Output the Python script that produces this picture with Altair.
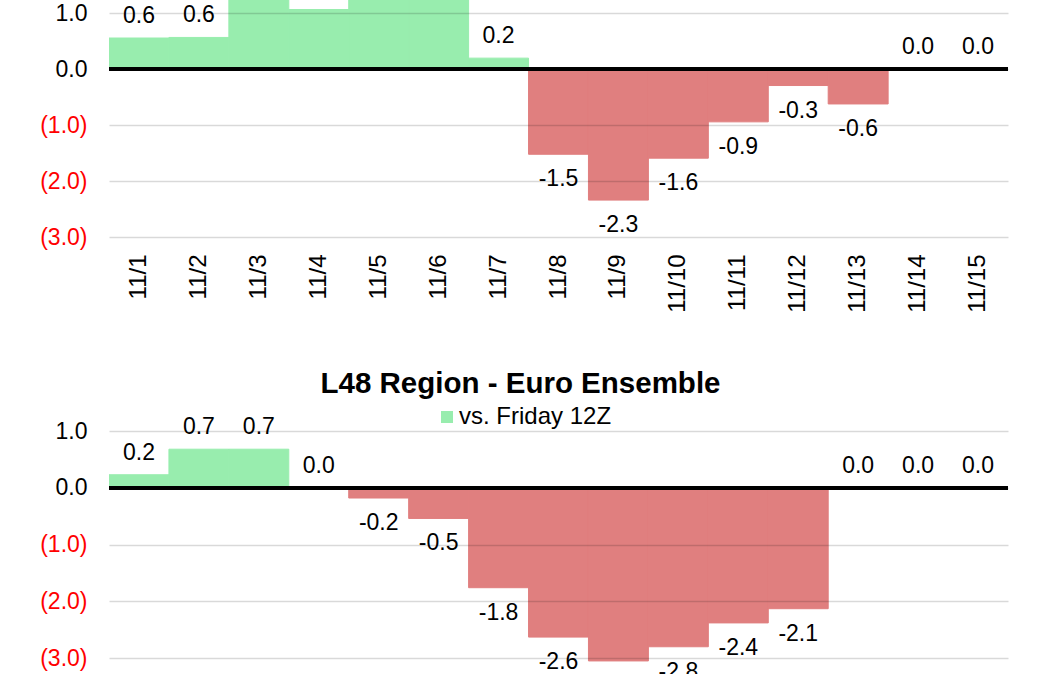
import altair as alt
import pandas as pd

dates = ["11/1", "11/2", "11/3", "11/4", "11/5", "11/6", "11/7", "11/8",
         "11/9", "11/10", "11/11", "11/12", "11/13", "11/14", "11/15"]
top_values = [0.56, 0.57, 1.5, 1.07, 1.6, 1.45, 0.2, -1.52, -2.34, -1.59,
              -0.94, -0.29, -0.62, 0.0, 0.0]
bottom_values = [0.23, 0.68, 0.68, 0.0, -0.18, -0.54, -1.76, -2.63, -3.05,
                 -2.8, -2.38, -2.13, 0.0, 0.0, 0.0]
series_name = "vs. Friday 12Z"
bottom_title = "L48 Region - Euro Ensemble"
y_tick_values = [-3, -2, -1, 0, 1]

FONT = "Liberation Sans"
GREEN = "#98EDAE"
RED = "#E07F7F"

label_expr = ("datum.value < 0 ? '(' + format(-datum.value, '.1f') + ')' : "
              "format(datum.value, '.1f') + '\u00a0'")
text_expr = ("datum.value < 0 ? '-' + format(-datum.value, '.1f') : "
             "format(datum.value, '.1f')")


def make_panel(values, domain, height, x_axis, with_legend, label_range, title=None):
    df = pd.DataFrame({"date": dates, "value": values, "series": series_name})
    x = alt.X("date:N", sort=dates,
              scale=alt.Scale(paddingInner=0, paddingOuter=0),
              axis=x_axis, title=None)
    y_axis = alt.Axis(values=y_tick_values, labelExpr=label_expr,
                      labelColor={"condition": {"test": "datum.value < 0", "value": "#FF0000"},
                                  "value": "#000000"},
                      labelFontSize=23, labelFont=FONT, labelPadding=22,
                      ticks=False, domain=False, grid=True, zindex=1,
                      gridColor="rgba(0,0,0,0.15)", gridWidth=1.5, title=None)
    y = alt.Y("value:Q", scale=alt.Scale(domain=domain, nice=False, zero=False),
              axis=y_axis)
    base = alt.Chart(df).encode(x=x)
    if with_legend:
        color = alt.Color("series:N", scale=alt.Scale(range=[GREEN]),
                          legend=alt.Legend(orient="none", legendX=326, legendY=-9,
                                            direction="horizontal", title=None,
                                            padding=0,
                                            symbolType="square", symbolSize=144,
                                            symbolStrokeWidth=0,
                                            labelFontSize=24, labelFont=FONT,
                                            labelColor="#000000", labelOffset=0))
    else:
        color = alt.value(GREEN)
    pos = base.transform_filter("datum.value > 0").mark_bar(
        clip=True, stroke=GREEN, strokeWidth=1).encode(y=y, y2=alt.datum(0), color=color)
    neg = base.transform_filter("datum.value < 0").mark_bar(
        clip=True, stroke=RED, strokeWidth=1).encode(
        y=y, y2=alt.datum(0), color=alt.value(RED))
    zero = alt.Chart(df).mark_rule(color="black", strokeWidth=3).encode(y=alt.datum(0))
    lo, hi = label_range
    labels = base.transform_filter(
        f"datum.value > {lo} && datum.value < {hi}"
    ).transform_calculate(lbl=text_expr)
    pos_text = labels.transform_filter("datum.value >= 0").mark_text(
        clip=True, dy=-22, fontSize=23, font=FONT, color="black",
        baseline="middle").encode(y=y, text="lbl:N")
    neg_text = labels.transform_filter("datum.value < 0").mark_text(
        clip=True, dy=25, fontSize=23, font=FONT, color="black",
        baseline="middle").encode(y=y, text="lbl:N")
    layer = alt.layer(pos, neg, zero, pos_text, neg_text)
    props = dict(width=899, height=height)
    if title is not None:
        props["title"] = alt.Title(title, fontSize=29.5, font=FONT, fontWeight="bold",
                                   anchor="middle", color="#000000", offset=6, dx=-38)
    return layer.properties(**props)


top_x_axis = alt.Axis(labelAngle=-90, labelFontSize=24, labelFont=FONT,
                      labelPadding=17, ticks=False, domain=False, grid=False,
                      labelColor="#000000")

top = make_panel(top_values, [-3, 1.24], 237, top_x_axis, False, (-3.5, 1.0))
bottom = make_panel(bottom_values, [-3.28, 1.3], 260, None, True, (-3.0, 1.3),
                    bottom_title)

chart = alt.vconcat(top, bottom, spacing=55).resolve_scale(
    y="independent", x="independent", color="independent"
).resolve_legend(color="independent").properties(
    padding={"left": 39, "top": 0, "right": 0, "bottom": 0},
    background="white",
).configure_view(stroke=None)

chart.save("out.html", embed_options={"renderer": "svg", "actions": False})
